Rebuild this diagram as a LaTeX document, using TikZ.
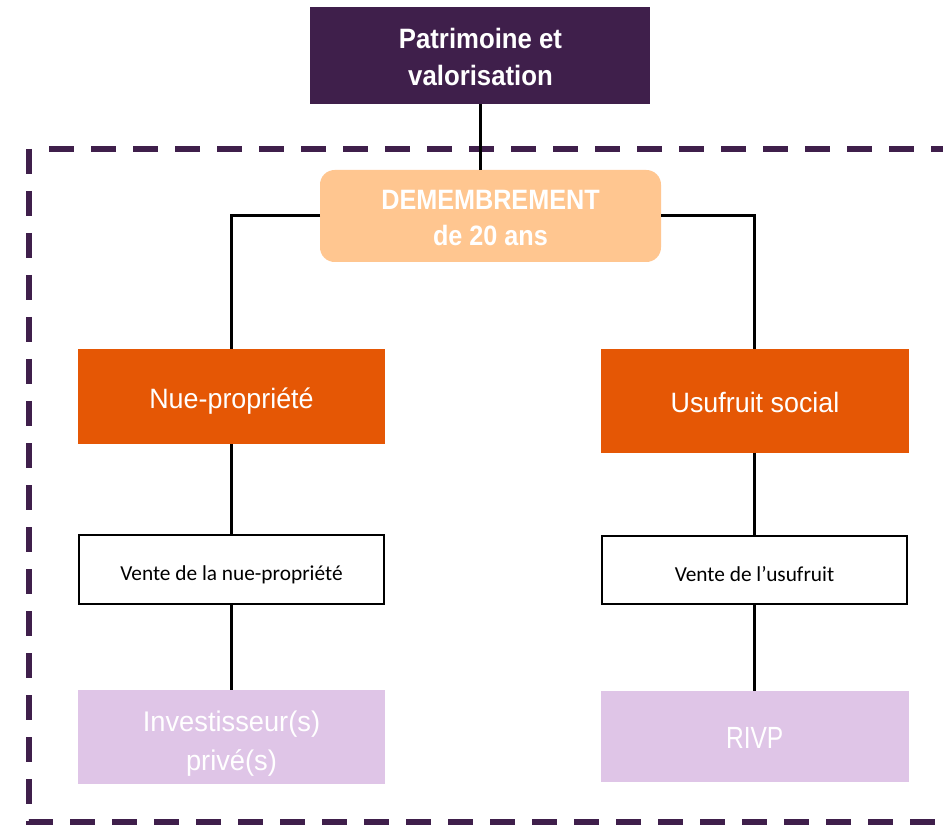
\documentclass[tikz,border=0pt]{standalone}
\usepackage{fontspec}
\newfontfamily\condsans[FakeStretch=0.9]{Liberation Sans}
\newfontfamily\topsans[FakeStretch=0.92]{Liberation Sans}
\newfontfamily\regsans[FakeStretch=0.96]{Liberation Sans}
\newfontfamily\narrsans[FakeStretch=0.8]{Liberation Sans}
\newfontfamily\calib{Carlito}
\definecolor{darkpurple}{HTML}{3F1F4B}
\definecolor{peach}{HTML}{FFC690}
\definecolor{orangebox}{HTML}{E55705}
\definecolor{lavender}{HTML}{DFC5E7}
\tikzset{
  boxbase/.style={inner sep=0pt, outer sep=0pt},
  topbox/.style={boxbase, fill=darkpurple, draw=none},
  dembox/.style={boxbase, fill=peach, draw=none, rounded corners=11pt},
  partbox/.style={boxbase, fill=orangebox, draw=none},
  salebox/.style={boxbase, fill=white, draw=black, line width=1.5pt},
  buyerbox/.style={boxbase, fill=lavender, draw=none},
  txt/.style={inner sep=0pt, outer sep=0pt, anchor=base},
  toptxt/.style={txt, text=white, font=\topsans\bfseries\fontsize{21}{27}\selectfont},
  demtxt/.style={txt, text=white, font=\condsans\bfseries\fontsize{21}{27}\selectfont},
  parttxt/.style={txt, text=white, font=\regsans\fontsize{21}{27}\selectfont},
  saletxt/.style={txt, text=black, font=\calib\fontsize{16}{19}\selectfont},
  buyertxt/.style={txt, text=white, font=\regsans\fontsize{21.3}{27}\selectfont},
  rivptxt/.style={txt, text=white, font=\narrsans\fontsize{23}{27}\selectfont},
  link/.style={draw=black, line width=2.25pt},
  frame/.style={draw=darkpurple, line width=4.5pt, dash pattern=on 18.75pt off 12.75pt}
}
\begin{document}
\begin{tikzpicture}[x=0.75pt, y=-0.75pt]
\clip (0,0) rectangle (943,827);
\fill[white] (0,0) rectangle (943,827);
% dashed frame
\coordinate (ftl) at (29,149);
\coordinate (fbl) at (29,822);
\coordinate (fbr) at (980,822);
\coordinate (ftstart) at (49,149);
\coordinate (ftr) at (980,149);
\draw[frame] (ftl) -- (fbl) -- (fbr);
\draw[frame] (ftstart) -- (ftr);
% boxes
\node[topbox, minimum width=255pt, minimum height=72.75pt] (top) at (480,55.5) {};
\node[dembox, minimum width=255.75pt, minimum height=69pt] (dem) at (490.5,216) {};
\node[partbox, minimum width=230.25pt, minimum height=71.25pt] (nue) at (231.5,396.5) {};
\node[partbox, minimum width=231pt, minimum height=77.25pt] (usu) at (754.5,401) {};
\node[salebox, minimum width=228.75pt, minimum height=51.75pt] (vnue) at (231.5,569.5) {};
\node[salebox, minimum width=228.75pt, minimum height=51pt] (vusu) at (754.5,569.5) {};
\node[buyerbox, minimum width=230.25pt, minimum height=70.5pt] (inv) at (231.5,737) {};
\node[buyerbox, minimum width=231pt, minimum height=68.25pt] (rivp) at (754.5,736.5) {};
% texts
\node[toptxt] (topa) at (480.5,48.3) {Patrimoine et};
\node[toptxt] (topb) at (480.5,86) {valorisation};
\node[demtxt] (dema) at (490.5,210) {DEMEMBREMENT};
\node[demtxt] (demb) at (490.5,246) {de 20 ans};
\node[parttxt] (nuet) at (231.5,408.3) {Nue-propriété};
\node[parttxt] (usut) at (755,412.3) {Usufruit social};
\node[saletxt] (vnuet) at (231.5,580.7) {Vente de la nue-propriété};
\node[saletxt] (vusut) at (754.5,581) {Vente de l’usufruit};
\node[buyertxt] (inva) at (231.5,731) {Investisseur(s)};
\node[buyertxt] (invb) at (231.5,770.7) {privé(s)};
\node[rivptxt] (rivpt) at (754.7,748.3) {RIVP};
% connectors
\draw[link] (top.south) -- (dem.north -| top.south);
\draw[link] (dem.west) -| (nue.north);
\draw[link] (dem.east) -| (usu.north);
\draw[link] (nue.south) -- (vnue.north);
\draw[link] (vnue.south) -- (inv.north);
\draw[link] (usu.south) -- (vusu.north);
\draw[link] (vusu.south) -- (rivp.north);
\end{tikzpicture}
\end{document}
